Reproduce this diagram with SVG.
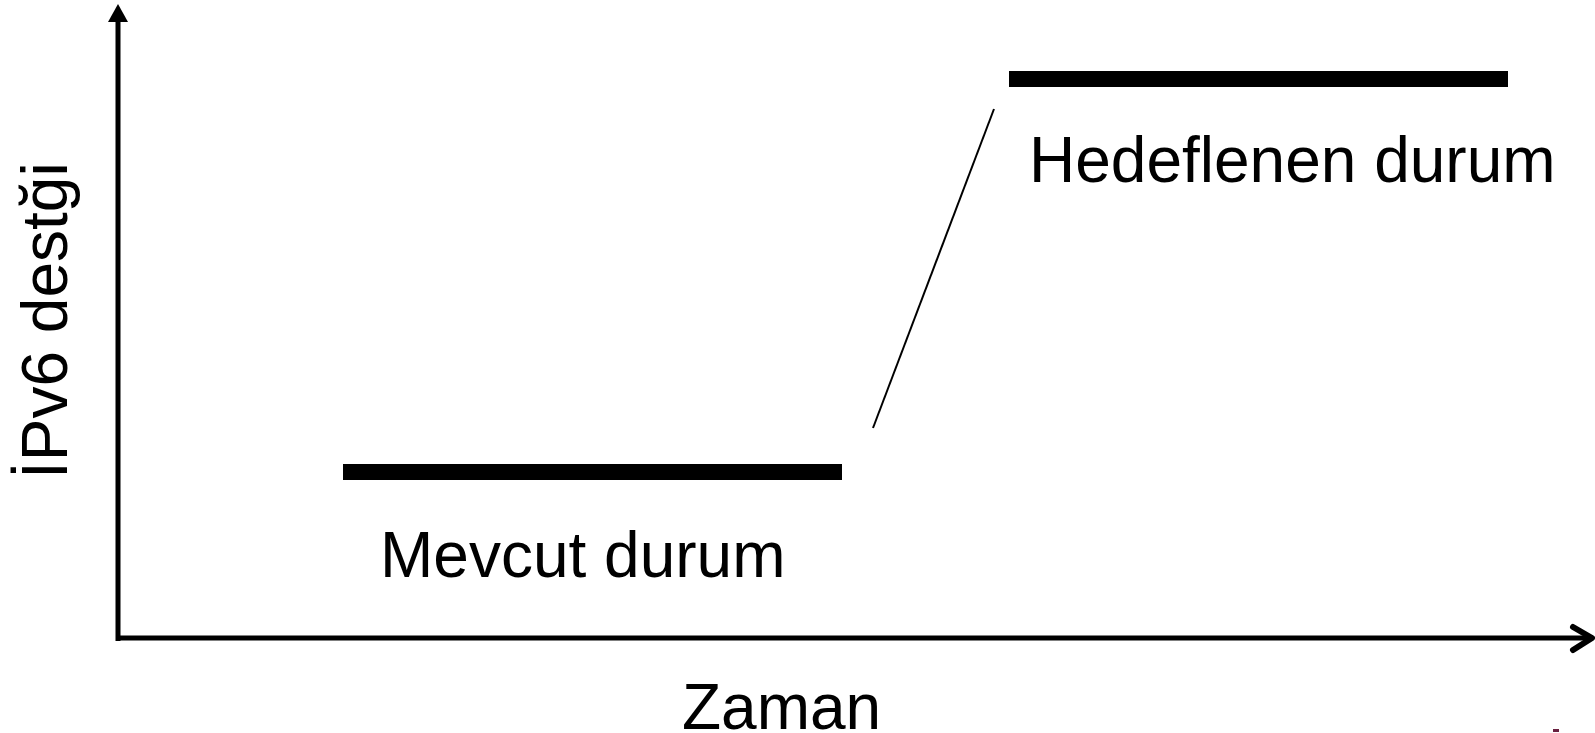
<svg xmlns="http://www.w3.org/2000/svg" width="1595" height="733" viewBox="0 0 1595 733">
<style>
.lbl{font-family:"Liberation Sans",Arial,sans-serif;font-size:64px;fill:#000}
.bar{fill:#000}
.axis{stroke:#000;stroke-width:5;fill:none}
</style>
<rect width="1595" height="733" fill="#fff"/>
<g id="connectors">
<line class="axis" x1="118" y1="641" x2="118" y2="18"/>
<polygon points="118,4 108,22 128,22" fill="#000"/>
<line class="axis" x1="116" y1="638" x2="1590" y2="638" stroke-width="6"/>
<polyline points="1573,627 1592,638 1573,650" fill="none" stroke="#000" stroke-width="6" stroke-linecap="round" stroke-linejoin="round"/>
<line x1="994" y1="109" x2="873" y2="428" stroke="#000" stroke-width="2"/>
</g>
<g id="current">
<rect class="bar" x="343" y="464" width="499" height="16"/>
<text class="lbl" x="380" y="577">Mevcut durum</text>
</g>
<g id="target">
<rect class="bar" x="1009" y="71" width="499" height="16"/>
<text class="lbl" x="1029" y="182">Hedeflenen durum</text>
</g>
<g id="xlabel">
<text class="lbl" x="682" y="729">Zaman</text>
</g>
<g id="ylabel">
<text class="lbl" transform="translate(67,479) rotate(-90)">İPv6 destği</text>
</g>
<rect x="1553" y="729" width="6" height="3" fill="#6a2040"/>
</svg>
